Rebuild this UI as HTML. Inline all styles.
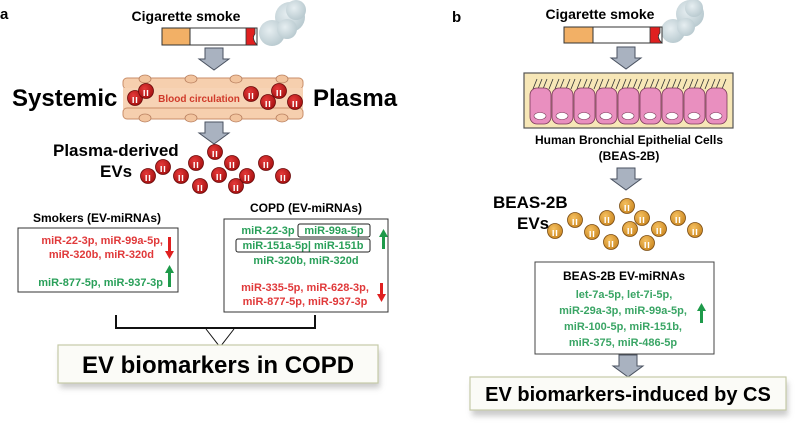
<!DOCTYPE html>
<html><head><meta charset="utf-8"><style>
html,body{margin:0;padding:0;background:#fff;}
svg{display:block;font-family:"Liberation Sans",sans-serif;font-weight:bold;}
</style></head><body>
<svg width="800" height="423" viewBox="0 0 800 423" xmlns="http://www.w3.org/2000/svg">
<defs>
<radialGradient id="rg" cx="0.4" cy="0.35" r="0.7"><stop offset="0" stop-color="#e53a3a"/><stop offset="1" stop-color="#a30f0f"/></radialGradient>
<radialGradient id="og" cx="0.4" cy="0.35" r="0.7"><stop offset="0" stop-color="#f5c060"/><stop offset="1" stop-color="#c9851f"/></radialGradient>
<radialGradient id="cl" cx="0.4" cy="0.4" r="0.7"><stop offset="0" stop-color="#e6eef1"/><stop offset="1" stop-color="#b4c6cc"/></radialGradient>
<g id="ev"><circle r="7.5" fill="url(#rg)" stroke="#6a0a0a" stroke-width="0.8"/><rect x="-2.5" y="-1" width="1.4" height="6" fill="#fff"/><rect x="0.8" y="-1" width="1.4" height="6" fill="#fff"/></g>
<g id="evo"><circle r="7.5" fill="url(#og)" stroke="#7a4b10" stroke-width="0.8"/><rect x="-2.5" y="-1" width="1.4" height="6" fill="#fff"/><rect x="0.8" y="-1" width="1.4" height="6" fill="#fff"/></g>
<g id="arr"><path d="M-9,0 H9 V11 H15 L0,22 L-15,11 H-9 Z" fill="#a9b2c0" stroke="#4a5260" stroke-width="1"/></g>
<filter id="sh" x="-10%" y="-30%" width="120%" height="160%"><feGaussianBlur stdDeviation="3"/></filter>
</defs>

<!-- Panel a -->
<text x="0" y="19" font-size="15">a</text>
<text x="186" y="21" font-size="14" text-anchor="middle">Cigarette smoke</text>
<circle cx="290" cy="17" r="15" fill="url(#cl)"/><circle cx="296" cy="10" r="10" fill="url(#cl)"/><circle cx="272" cy="33" r="13" fill="url(#cl)"/><circle cx="287" cy="29" r="10" fill="url(#cl)"/>
<rect x="162" y="28" width="95" height="17" fill="#fff" stroke="#333" stroke-width="1"/>
<rect x="162" y="28" width="28" height="17" fill="#f2b066" stroke="#333" stroke-width="1"/>
<path d="M246,28 H255 L255,34 Q251,38 257,45 H246 Z" fill="#e02020" stroke="#333" stroke-width="0.8"/>
<use href="#arr" x="214" y="48"/>
<!-- vessel -->
<rect x="123" y="78" width="180" height="11" rx="4" fill="#f6cfae" stroke="#c98e68" stroke-width="1"/>
<rect x="123" y="88" width="180" height="21" fill="#f7d3b5"/>
<rect x="123" y="108" width="180" height="11" rx="4" fill="#f6cfae" stroke="#c98e68" stroke-width="1"/>
<g fill="#f2c49e" stroke="#b98060" stroke-width="0.8">
<ellipse cx="145" cy="79" rx="6" ry="4"/><ellipse cx="191" cy="79" rx="6" ry="4"/><ellipse cx="236" cy="79" rx="6" ry="4"/><ellipse cx="282" cy="79" rx="6" ry="4"/>
<ellipse cx="145" cy="118" rx="6" ry="4"/><ellipse cx="191" cy="118" rx="6" ry="4"/><ellipse cx="236" cy="118" rx="6" ry="4"/><ellipse cx="282" cy="118" rx="6" ry="4"/>
</g>
<use href="#ev" x="135" y="98"/><use href="#ev" x="146" y="91"/><use href="#ev" x="251" y="94"/><use href="#ev" x="268" y="102"/><use href="#ev" x="279" y="91"/><use href="#ev" x="295" y="102"/>
<text x="199" y="102" font-size="10" fill="#d03a2a" text-anchor="middle">Blood  circulation</text>
<text x="12" y="106" font-size="24">Systemic</text>
<text x="313" y="106" font-size="24">Plasma</text>
<use href="#arr" x="214" y="122"/>
<text x="53" y="156" font-size="17">Plasma-derived</text>
<text x="100" y="177" font-size="17">EVs</text>
<use href="#ev" x="148" y="176"/><use href="#ev" x="163" y="167"/><use href="#ev" x="181" y="176"/><use href="#ev" x="196" y="163"/><use href="#ev" x="215" y="152"/><use href="#ev" x="200" y="186"/><use href="#ev" x="219" y="175"/><use href="#ev" x="232" y="163"/><use href="#ev" x="236" y="186"/><use href="#ev" x="247" y="176"/><use href="#ev" x="266" y="163"/><use href="#ev" x="283" y="176"/>

<text x="97" y="222" font-size="12" text-anchor="middle">Smokers (EV-miRNAs)</text>
<rect x="18" y="228" width="160" height="64" fill="#fff" stroke="#333" stroke-width="1"/>
<g font-size="11" text-anchor="end">
<text x="163" y="244" fill="#e0393a">miR-22-3p, miR-99a-5p,</text>
<text x="154" y="258" fill="#e0393a">miR-320b, miR-320d</text>
<text x="163" y="286" fill="#2aa05a">miR-877-5p, miR-937-3p</text>
</g>
<path d="M168,237 h3 v14 h3 l-4.5,8 l-4.5,-8 h3 z" fill="#e02020"/>
<path d="M168,287 h3 v-14 h3 l-4.5,-8 l-4.5,8 h3 z" fill="#1e9a4a"/>

<text x="306" y="212" font-size="12" text-anchor="middle">COPD (EV-miRNAs)</text>
<rect x="224" y="219" width="164" height="93" fill="#fff" stroke="#333" stroke-width="1"/>
<g font-size="11" text-anchor="middle">
<text x="268" y="234" fill="#2aa05a">miR-22-3p</text>
<text x="334" y="234" fill="#2aa05a">miR-99a-5p</text>
<text x="303" y="249" fill="#2aa05a">miR-151a-5p| miR-151b</text>
<text x="306" y="264" fill="#2aa05a">miR-320b, miR-320d</text>
<text x="305" y="291" fill="#e0393a">miR-335-5p, miR-628-3p,</text>
<text x="305" y="305" fill="#e0393a">miR-877-5p, miR-937-3p</text>
</g>
<rect x="298" y="224" width="72" height="13" rx="2" fill="none" stroke="#222" stroke-width="1"/>
<rect x="236" y="239" width="134" height="13" rx="2" fill="none" stroke="#222" stroke-width="1"/>
<path d="M382,249 h3 v-12 h3 l-4.5,-8 l-4.5,8 h3 z" fill="#1e9a4a"/>
<path d="M380,283 h3 v11 h3 l-4.5,8 l-4.5,-8 h3 z" fill="#e02020"/>

<path d="M116,315 V328 H315 V315" fill="none" stroke="#111" stroke-width="2"/>
<path d="M206,329 L220,347 L234,329" fill="#fff" stroke="#111" stroke-width="1"/>
<rect x="60" y="350" width="320" height="38" fill="#999" opacity="0.5" filter="url(#sh)"/>
<rect x="58" y="345" width="320" height="38" fill="#fbfbf7" stroke="#c6caa8" stroke-width="1.2"/>
<text x="218" y="373" font-size="24" text-anchor="middle">EV biomarkers in COPD</text>

<!-- Panel b -->
<text x="452" y="22" font-size="15">b</text>
<text x="600" y="19" font-size="14" text-anchor="middle">Cigarette smoke</text>
<circle cx="690" cy="14" r="14" fill="url(#cl)"/><circle cx="694" cy="8" r="9" fill="url(#cl)"/><circle cx="673" cy="31" r="12" fill="url(#cl)"/><circle cx="686" cy="27" r="9" fill="url(#cl)"/>
<rect x="564" y="27" width="98" height="16" fill="#fff" stroke="#333" stroke-width="1"/>
<rect x="564" y="27" width="29" height="16" fill="#f2b066" stroke="#333" stroke-width="1"/>
<path d="M650,27 H660 L660,33 Q656,37 662,43 H650 Z" fill="#e02020" stroke="#333" stroke-width="0.8"/>
<use href="#arr" x="626" y="47"/>
<rect x="524" y="73" width="209" height="55" fill="#f7e7b7" stroke="#555" stroke-width="1.2"/>
<g stroke="#333" stroke-width="0.8">
<path d="M533,89 l4,-10 M538,89 l4,-10 M543,89 l4,-10 M549,89 l4,-10 M555,89 l4,-10 M560,89 l4,-10 M566,89 l4,-10 M571,89 l4,-10 M577,89 l4,-10 M583,89 l4,-10 M588,89 l4,-10 M594,89 l4,-10 M599,89 l4,-10 M605,89 l4,-10 M611,89 l4,-10 M616,89 l4,-10 M622,89 l4,-10 M627,89 l4,-10 M633,89 l4,-10 M638,89 l4,-10 M644,89 l4,-10 M650,89 l4,-10 M655,89 l4,-10 M661,89 l4,-10 M666,89 l4,-10 M672,89 l4,-10 M677,89 l4,-10 M683,89 l4,-10 M689,89 l4,-10 M694,89 l4,-10 M700,89 l4,-10 M705,89 l4,-10 M711,89 l4,-10 M716,89 l4,-10 M722,89 l4,-10"/>
</g>
<g fill="#e98fbf" stroke="#7a3a5a" stroke-width="0.8">
<rect x="530" y="88" width="21" height="36" rx="7"/><rect x="552" y="88" width="21" height="36" rx="7"/><rect x="574" y="88" width="21" height="36" rx="7"/><rect x="596" y="88" width="21" height="36" rx="7"/><rect x="618" y="88" width="21" height="36" rx="7"/><rect x="640" y="88" width="21" height="36" rx="7"/><rect x="662" y="88" width="21" height="36" rx="7"/><rect x="684" y="88" width="21" height="36" rx="7"/><rect x="706" y="88" width="21" height="36" rx="7"/>
</g>
<g fill="#fff" stroke="#7a3a5a" stroke-width="0.6">
<ellipse cx="540" cy="116" rx="6" ry="3.5"/><ellipse cx="562" cy="116" rx="6" ry="3.5"/><ellipse cx="584" cy="116" rx="6" ry="3.5"/><ellipse cx="606" cy="116" rx="6" ry="3.5"/><ellipse cx="628" cy="116" rx="6" ry="3.5"/><ellipse cx="650" cy="116" rx="6" ry="3.5"/><ellipse cx="672" cy="116" rx="6" ry="3.5"/><ellipse cx="694" cy="116" rx="6" ry="3.5"/><ellipse cx="716" cy="116" rx="6" ry="3.5"/>
</g>
<text x="629" y="144" font-size="12" text-anchor="middle">Human Bronchial Epithelial Cells</text>
<text x="629" y="160" font-size="12" text-anchor="middle">(BEAS-2B)</text>
<use href="#arr" x="626" y="168"/>
<text x="493" y="208" font-size="17">BEAS-2B</text>
<text x="517" y="229" font-size="17">EVs</text>
<use href="#evo" x="555" y="231"/><use href="#evo" x="575" y="220"/><use href="#evo" x="592" y="232"/><use href="#evo" x="607" y="218"/><use href="#evo" x="627" y="206"/><use href="#evo" x="611" y="242"/><use href="#evo" x="630" y="229"/><use href="#evo" x="642" y="218"/><use href="#evo" x="647" y="243"/><use href="#evo" x="659" y="229"/><use href="#evo" x="678" y="218"/><use href="#evo" x="695" y="230"/>
<rect x="535" y="262" width="179" height="92" fill="#fff" stroke="#444" stroke-width="1"/>
<text x="624" y="280" font-size="12" text-anchor="middle">BEAS-2B EV-miRNAs</text>
<g font-size="11" fill="#3aa565" text-anchor="middle">
<text x="624" y="298">let-7a-5p, let-7i-5p,</text>
<text x="623" y="314">miR-29a-3p, miR-99a-5p,</text>
<text x="623" y="330">miR-100-5p, miR-151b,</text>
<text x="623" y="346">miR-375, miR-486-5p</text>
</g>
<path d="M700,323 h3 v-12 h3 l-4.5,-8 l-4.5,8 h3 z" fill="#1e9a4a"/>
<use href="#arr" x="628" y="355"/>
<rect x="472" y="382" width="316" height="34" fill="#999" opacity="0.5" filter="url(#sh)"/>
<rect x="470" y="377" width="316" height="33" fill="#fbfbf7" stroke="#c6caa8" stroke-width="1.2"/>
<text x="628" y="401" font-size="20" text-anchor="middle">EV biomarkers-induced by CS</text>
</svg>
</body></html>
